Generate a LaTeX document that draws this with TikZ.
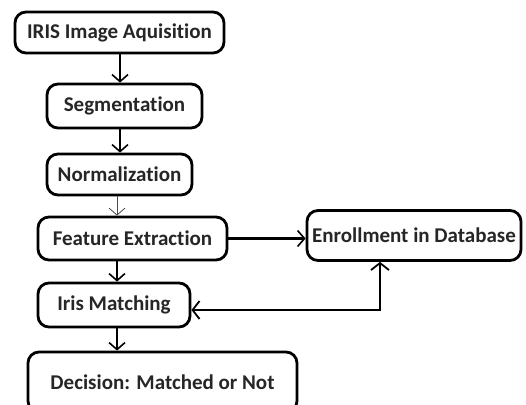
\documentclass[tikz,border=0pt]{standalone}
\usepackage{fontspec}
\setmainfont{Carlito}[Ligatures=NoCommon]
\usetikzlibrary{arrows.meta}
\begin{document}
\begin{tikzpicture}[x=1pt,y=-1pt,
  stage/.style={draw=black, line width=2.8pt, rounded corners=11pt,
    inner sep=0pt, font=\bfseries\fontsize{21}{25}\selectfont, text=black!85},
  flow/.style={line width=2.6pt, -{Straight Barb[length=7pt,width=16pt,line width=1.6pt]}},
  thinflow/.style={line width=0.8pt, draw=black!70, -{Straight Barb[length=7pt,width=16pt,line width=0.8pt]}},
  both/.style={line width=2.6pt, {Straight Barb[length=7pt,width=18pt,line width=1.8pt]}-{Straight Barb[length=7pt,width=18pt,line width=1.8pt]}}]
\useasboundingbox[fill=white] (0,0) rectangle (526,404);

% processing stages
\node[stage, minimum width=209pt, minimum height=41pt] (acq)   at (119.5,32.5) {IRIS Image Aquisition};
\node[stage, minimum width=155pt, minimum height=44pt] (seg)   at (124.5,106)  {Segmentation};
\node[stage, minimum width=145pt, minimum height=41pt] (norm)  at (119.5,174.5) {Normalization};
\node[stage, minimum width=189pt, minimum height=43pt] (feat)  at (132.5,238.5) {Feature Extraction};
\node[stage, minimum width=152pt, minimum height=44pt] (match) at (114,305)    {Iris Matching};
\node[stage, minimum width=269pt, minimum height=60pt] (dec)   at (162.5,382)  {Decision: Matched or Not};
\node[stage, minimum width=214pt, minimum height=50pt] (enr)   at (414,235.5)  {Enrollment in Database};

% main pipeline
\draw[flow] (acq.south -| 120,0) -- (seg.north -| 120,0);
\draw[flow] (seg.south -| 120,0) -- (norm.north -| 120,0);
\draw[thinflow] (norm.south -| 117,0) -- (feat.north -| 117,0);
\draw[flow] (feat.south -| 117,0) -- (match.north -| 117,0);
\draw[flow] (match.south -| 117,0) -- (dec.north -| 117,0);

% enrollment branch and feedback to matching
\draw[flow] (feat.east) -- (enr.west |- feat.east);
\coordinate (turn) at (380,310);
\draw[both] (match.east |- turn) -- (turn) -- (turn |- enr.south);
\end{tikzpicture}
\end{document}
